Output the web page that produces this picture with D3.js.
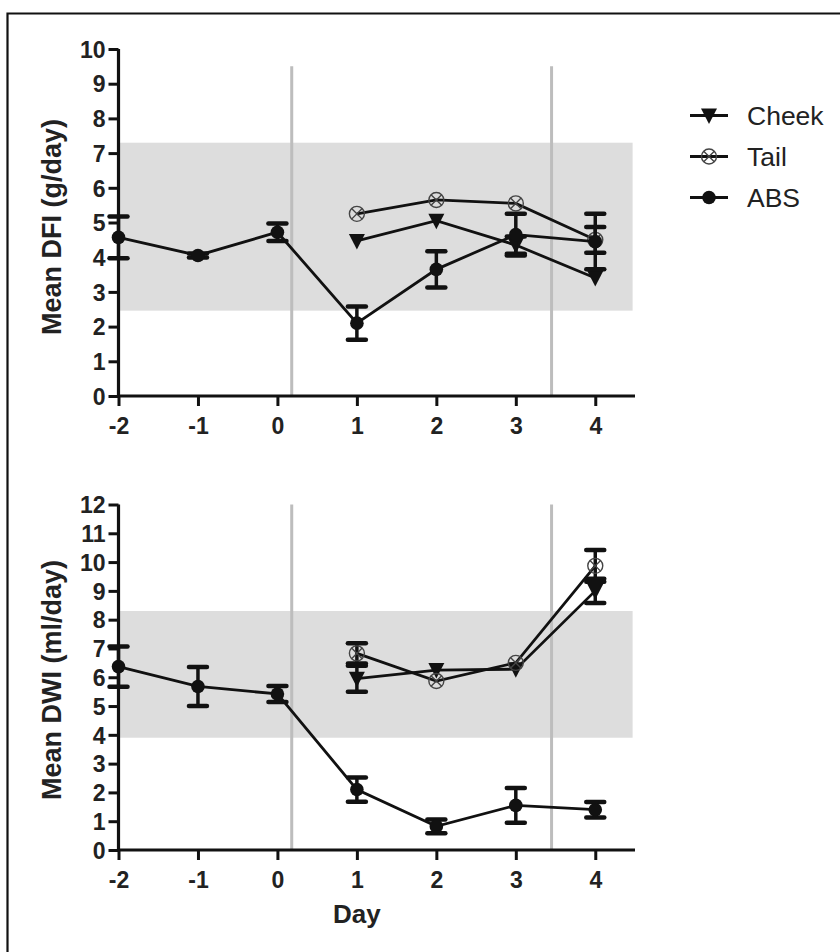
<!DOCTYPE html>
<html><head><meta charset="utf-8">
<script src="https://cdn.jsdelivr.net/npm/d3@7"></script>
<style>body{margin:0;background:#fff}svg{display:block}</style>
</head><body>
<script>
// ---------- data ----------
const days = [-2, -1, 0, 1, 2, 3, 4];
const postDays = [1, 2, 3, 4];
const xTicks = [-2, -1, 0, 1, 2, 3, 4];
const seriesNames = ["Cheek", "Tail", "ABS"];

// Panel A: Mean DFI (g/day)
const dfiABS = [4.57, 4.05, 4.72, 2.1, 3.65, 4.65, 4.45];
const dfiABSErr = [0.6, 0.06, 0.25, 0.48, 0.52, 0.6, 0.8];
const dfiCheek = [4.47, 5.05, 4.35, 3.4];
const dfiCheekErr = [0, 0, 0.25, 0];
const dfiTail = [5.25, 5.65, 5.55, 4.5];
const dfiTailErr = [0, 0, 0, 0.37];
const dfiBand = [2.46, 7.3];
const dfiTicks = [0, 1, 2, 3, 4, 5, 6, 7, 8, 9, 10];

// Panel B: Mean DWI (ml/day)
const dwiABS = [6.37, 5.68, 5.42, 2.1, 0.82, 1.55, 1.4];
const dwiABSErr = [0.7, 0.68, 0.28, 0.42, 0.24, 0.6, 0.27];
const dwiCheek = [5.95, 6.25, 6.28, 9.0];
const dwiCheekErr = [0.45, 0, 0, 0.42];
const dwiTail = [6.83, 5.87, 6.5, 9.87];
const dwiTailErr = [0.35, 0, 0, 0.55];
const dwiBand = [3.9, 8.3];
const dwiTicks = [0, 1, 2, 3, 4, 5, 6, 7, 8, 9, 10, 11, 12];

const markerLines = [0.18, 3.45];

// ---------- drawing ----------
const W = 840, H = 952;
const FONT = "'Liberation Sans', Arial, Helvetica, sans-serif";
const svg = d3.select("body").append("svg").attr("width", W).attr("height", H);

// frame
svg.append("path").attr("d", `M7.5,${H+5} L7.5,13.5 L${W+5},13.5`)
  .attr("fill", "none").attr("stroke", "#111").attr("stroke-width", 2.2);

const x = d3.scaleLinear().domain([-2, 4.5]).range([118.5, 635]);
const fmt = d => String(d);

function panel(cfg) {
  const y = d3.scaleLinear().domain([0, cfg.max]).range([cfg.y0, cfg.y1]);
  const g = svg.append("g");

  // grey reference band
  g.append("rect").attr("x", x(-2)).attr("width", x(4.47) - x(-2))
    .attr("y", y(cfg.band[1])).attr("height", y(cfg.band[0]) - y(cfg.band[1]))
    .attr("fill", "#dddddd");

  // vertical grey lines
  g.selectAll("line.vl").data(markerLines).join("line")
    .attr("x1", d => x(d)).attr("x2", d => x(d))
    .attr("y1", y(cfg.vTop)).attr("y2", y(0))
    .attr("stroke", "#bdbdbd").attr("stroke-width", 3);

  // axes
  const ya = d3.axisLeft(y).tickValues(cfg.ticks).tickSize(10).tickPadding(3).tickFormat(fmt);
  const yg = g.append("g").attr("transform", `translate(${x(-2)},0)`).call(ya);
  const xa = d3.axisBottom(x).tickValues(xTicks).tickSize(10).tickPadding(12).tickFormat(fmt);
  const xg = g.append("g").attr("transform", `translate(0,${y(0)})`).call(xa);
  [yg, xg].forEach(a => {
    a.select(".domain").attr("stroke", "#111").attr("stroke-width", 3.2);
    a.selectAll(".tick line").attr("stroke", "#111").attr("stroke-width", 3);
    a.selectAll(".tick text").attr("fill", "#222").attr("font-family", FONT)
      .attr("font-weight", "bold").attr("font-size", 23);
  });
  yg.select(".domain").attr("d", `M-0,${y(cfg.max)}V${y(0)}`);
  xg.select(".domain").attr("d", `M${x(-2)},0H${x(4.5)}`);
  yg.selectAll(".tick text").attr("dy", "0.36em");

  // y label
  g.append("text").attr("transform", `translate(61,${cfg.labelY}) rotate(-90)`)
    .attr("text-anchor", "middle").attr("font-family", FONT).attr("font-weight", "bold")
    .attr("font-size", 27).attr("fill", "#222").text(cfg.label);

  const line = d3.line().x(d => x(d[0])).y(d => y(d[1]));
  const series = [
    { name: "Cheek", xs: postDays, v: cfg.cheek, e: cfg.cheekErr },
    { name: "Tail", xs: postDays, v: cfg.tail, e: cfg.tailErr },
    { name: "ABS", xs: days, v: cfg.abs, e: cfg.absErr }
  ];
  series.forEach(s => {
    const pts = s.xs.map((d, i) => [d, s.v[i], s.e[i]]);
    const eb = g.append("g");
    pts.filter(p => p[2] > 0).forEach(p => {
      eb.append("line").attr("x1", x(p[0])).attr("x2", x(p[0]))
        .attr("y1", y(p[1] + p[2])).attr("y2", y(p[1] - p[2]))
        .attr("stroke", "#111").attr("stroke-width", 3.5);
      [p[1] + p[2], p[1] - p[2]].forEach(v => {
        eb.append("line").attr("x1", x(p[0]) - 9).attr("x2", x(p[0]) + 9)
          .attr("y1", y(v)).attr("y2", y(v)).attr("stroke", "#111").attr("stroke-width", 4.5)
          .attr("stroke-linecap", "round");
      });
    });
    g.append("path").attr("d", line(pts)).attr("fill", "none")
      .attr("stroke", "#111").attr("stroke-width", 2.8);
    pts.forEach(p => drawMarker(g, s.name, x(p[0]), y(p[1])));
  });
}

function drawMarker(g, name, cx, cy) {
  const m = g.append("g").attr("transform", `translate(${cx},${cy})`);
  if (name === "Cheek") {
    m.append("path").attr("d", "M-8,-7L8,-7L0,8.5Z").attr("fill", "#111");
  } else if (name === "Tail") {
    m.append("circle").attr("r", 7.5).attr("fill", "none").attr("stroke", "#444").attr("stroke-width", 1.4);
    const k = 7.5 * Math.SQRT1_2;
    m.append("path").attr("d", `M${-k},${-k}L${k},${k}M${-k},${k}L${k},${-k}`)
      .attr("stroke", "#444").attr("stroke-width", 1.4);
  } else {
    m.append("circle").attr("r", 6.8).attr("fill", "#111");
  }
}

panel({ max: 10, y0: 396, y1: 49, ticks: dfiTicks, band: dfiBand, vTop: 9.5,
  label: "Mean DFI (g/day)", labelY: 227,
  abs: dfiABS, absErr: dfiABSErr, cheek: dfiCheek, cheekErr: dfiCheekErr, tail: dfiTail, tailErr: dfiTailErr });
panel({ max: 12, y0: 850, y1: 504.5, ticks: dwiTicks, band: dwiBand, vTop: 12,
  label: "Mean DWI (ml/day)", labelY: 680,
  abs: dwiABS, absErr: dwiABSErr, cheek: dwiCheek, cheekErr: dwiCheekErr, tail: dwiTail, tailErr: dwiTailErr });

// x title
svg.append("text").attr("x", x(1)).attr("y", 923).attr("text-anchor", "middle")
  .attr("font-family", FONT).attr("font-weight", "bold").attr("font-size", 26)
  .attr("fill", "#222").text("Day");

// legend
const lg = svg.append("g");
seriesNames.forEach((n, i) => {
  const ly = 115.5 + i * 41;
  lg.append("line").attr("x1", 690).attr("x2", 728).attr("y1", ly).attr("y2", ly)
    .attr("stroke", "#111").attr("stroke-width", 2.8);
  drawMarker(lg, n, 709, ly);
  lg.append("text").attr("x", 747).attr("y", ly).attr("dy", "0.36em")
    .attr("font-family", FONT).attr("font-size", 26.5).attr("fill", "#222").text(n);
});
</script>
</body></html>
